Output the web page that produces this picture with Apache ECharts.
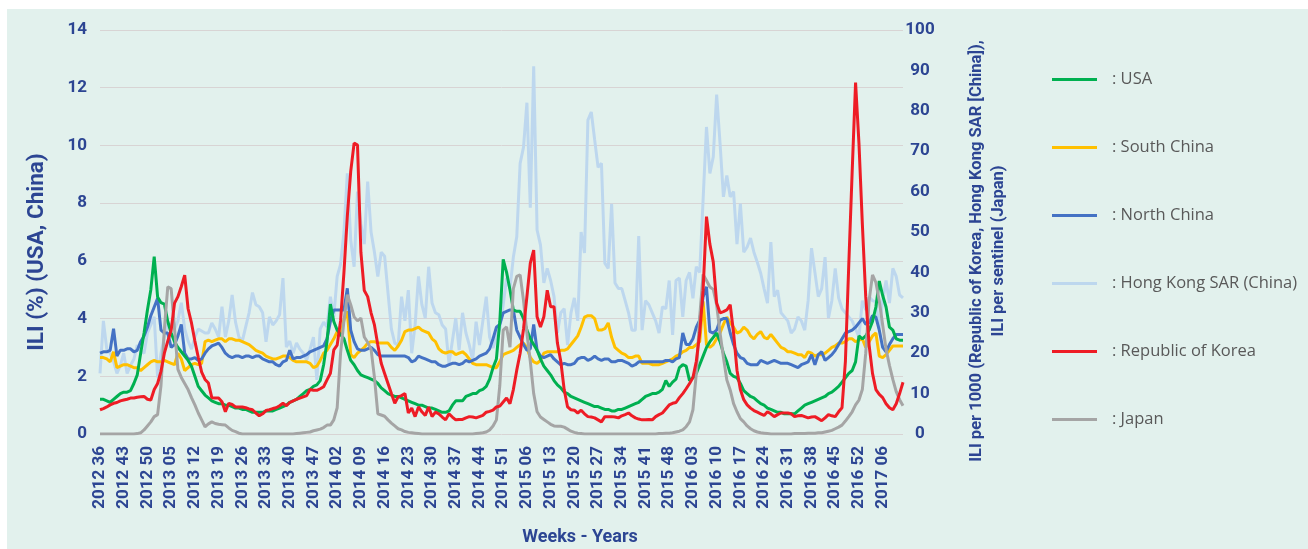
<!DOCTYPE html>
<html>
<head>
<meta charset="utf-8">
<script src="https://cdn.jsdelivr.net/npm/echarts@6/dist/echarts.min.js"></script>
<style>
html,body{margin:0;padding:0;background:#ffffff;width:1308px;height:549px;overflow:hidden;}
#bg{position:absolute;left:7px;top:9px;width:1301px;height:540px;background:#e2f1ed;}
#chart{position:absolute;left:0;top:0;width:1308px;height:549px;}
</style>
</head>
<body>
<div id="bg"></div>
<div id="chart"></div>
<script>
// ---- categories (week labels as printed on the chart) ----
const weeksInYear = {2012: 52, 2013: 52, 2014: 52, 2015: 52, 2016: 53, 2017: 52};
const pointCount = 238;
const categories = [];
(function () {
  let y = 2012, w = 36;
  for (let i = 0; i < pointCount; i++) {
    categories.push(y + ' ' + (w < 10 ? '0' + w : String(w)));
    w++;
    if (w > weeksInYear[y]) { y++; w = 1; }
  }
})();

const leftTicks = {min: 0, max: 14, interval: 2};
const rightTicks = {min: 0, max: 100, interval: 10};
const seriesNames = ['USA', 'South China', 'North China', 'Hong Kong SAR (China)', 'Republic of Korea', 'Japan'];

// ---- left axis: ILI % ----
const usa = [
1.2,1.2,1.15,1.1,1.2,1.3,1.4,1.45,1.45,1.5,
1.75,2.05,2.8,3.5,4.3,5.0,6.15,4.75,4.55,4.5,
3.9,3.5,3.2,3.0,2.85,2.7,2.55,2.35,2.0,1.65,
1.5,1.35,1.25,1.15,1.1,1.05,1.05,1.0,1.0,0.95,
0.9,0.9,0.85,0.85,0.8,0.75,0.75,0.75,0.75,0.8,
0.8,0.8,0.85,0.9,0.95,1.0,1.1,1.15,1.2,1.3,
1.4,1.5,1.55,1.65,1.7,1.85,2.4,3.2,4.5,3.9,
3.6,3.45,3.3,2.9,2.55,2.4,2.2,2.05,2.0,1.95,
1.9,1.85,1.75,1.6,1.5,1.4,1.35,1.3,1.3,1.25,
1.2,1.15,1.1,1.05,1.0,1.0,0.95,0.9,0.9,0.85,
0.8,0.75,0.75,0.8,1.0,1.15,1.15,1.15,1.3,1.35,
1.4,1.4,1.5,1.55,1.65,1.9,2.3,2.6,3.9,6.05,
5.6,5.0,4.3,4.25,4.25,4.0,3.6,3.3,3.1,2.9,
2.6,2.35,2.2,2.05,1.85,1.7,1.6,1.45,1.4,1.3,
1.25,1.2,1.15,1.1,1.05,1.0,0.95,0.95,0.9,0.85,
0.85,0.8,0.8,0.85,0.85,0.9,0.95,1.0,1.05,1.1,
1.2,1.3,1.35,1.4,1.4,1.45,1.55,1.85,1.65,1.8,
1.9,2.3,2.4,2.35,1.85,1.95,2.1,2.4,2.7,3.0,
3.2,3.35,3.5,3.2,2.8,2.5,2.1,2.0,1.95,1.75,
1.5,1.4,1.3,1.25,1.15,1.05,1.0,0.9,0.85,0.8,
0.75,0.75,0.7,0.7,0.7,0.7,0.8,0.9,1.0,1.05,
1.1,1.15,1.2,1.25,1.3,1.4,1.45,1.55,1.65,1.8,
1.95,2.1,2.2,2.5,3.4,3.3,3.4,3.6,3.9,4.4,
5.3,4.8,4.4,3.7,3.6,3.3,3.25,3.25
];
const southChina = [
2.65,2.65,2.6,2.5,2.85,2.3,2.35,2.4,2.4,2.35,
2.3,2.3,2.2,2.3,2.4,2.5,2.55,2.5,2.5,2.55,
2.5,2.45,2.4,2.8,2.6,2.2,2.3,2.4,2.45,2.4,
2.45,3.2,3.25,3.2,3.25,3.3,3.3,3.2,3.3,3.3,
3.25,3.25,3.2,3.15,3.1,3.0,2.9,2.85,2.8,2.7,
2.65,2.6,2.6,2.65,2.7,2.7,2.65,2.55,2.5,2.5,
2.5,2.5,2.45,2.3,2.35,2.55,2.8,2.9,3.1,3.3,
3.55,3.4,3.95,4.25,2.75,2.65,2.8,2.9,3.0,3.15,
3.2,3.2,3.15,3.15,3.15,3.15,3.0,2.9,3.05,3.25,
3.55,3.6,3.6,3.65,3.7,3.6,3.55,3.5,3.3,3.2,
2.95,2.85,2.8,2.85,2.85,2.75,2.8,2.85,2.75,2.6,
2.45,2.4,2.4,2.4,2.4,2.35,2.3,2.3,2.5,2.75,
2.8,2.85,2.9,3.0,3.1,3.15,3.0,2.65,2.5,2.45,
2.55,2.8,2.85,2.85,2.85,2.85,2.9,2.9,2.95,3.1,
3.25,3.4,3.7,4.05,4.1,4.1,4.0,3.6,3.6,3.65,
3.85,3.35,3.0,2.9,2.8,2.75,2.65,2.65,2.7,2.7,
2.45,2.45,2.45,2.4,2.4,2.4,2.45,2.5,2.55,2.6,
2.7,2.75,2.85,2.9,3.0,3.0,3.1,3.2,4.6,3.1,
3.0,3.1,3.3,3.5,3.8,4.05,3.85,3.7,3.5,3.55,
3.7,3.6,3.4,3.3,3.45,3.55,3.35,3.3,3.45,3.3,
3.15,3.0,2.95,2.85,2.85,2.8,2.75,2.75,2.65,2.85,
2.8,2.7,2.75,2.75,2.8,2.9,3.0,3.05,3.15,3.15,
3.2,3.3,3.3,3.2,3.25,3.3,3.0,3.2,3.4,3.5,
2.7,2.65,2.75,2.9,3.05,3.05,3.05,3.05
];
const northChina = [
2.8,2.85,2.85,2.9,3.65,2.7,2.9,2.9,2.95,2.95,
2.85,2.9,3.2,3.4,3.7,4.1,4.4,4.7,3.6,3.5,
3.5,3.0,3.1,3.4,3.8,2.8,2.6,2.6,2.65,2.55,
2.6,2.8,2.95,3.05,3.1,3.15,3.0,2.8,2.7,2.65,
2.7,2.7,2.65,2.7,2.7,2.65,2.7,2.7,2.6,2.55,
2.5,2.5,2.4,2.35,2.5,2.55,2.9,2.6,2.65,2.65,
2.7,2.75,2.85,2.9,2.95,3.0,3.05,3.3,3.9,4.3,
4.3,4.3,4.3,5.05,3.6,3.2,2.95,2.9,2.9,2.95,
3.0,2.9,2.75,2.7,2.7,2.7,2.7,2.7,2.7,2.7,
2.7,2.65,2.5,2.55,2.7,2.65,2.6,2.55,2.5,2.5,
2.4,2.35,2.35,2.4,2.45,2.45,2.4,2.45,2.55,2.5,
2.55,2.6,2.7,2.75,2.8,2.95,3.3,3.7,3.8,4.2,
4.25,4.3,4.3,3.6,3.35,3.1,2.9,2.95,3.8,2.9,
2.7,2.65,2.7,2.75,2.6,2.5,2.4,2.45,2.4,2.4,
2.45,2.6,2.65,2.65,2.55,2.6,2.7,2.6,2.55,2.6,
2.6,2.5,2.5,2.55,2.55,2.5,2.45,2.35,2.4,2.5,
2.5,2.5,2.5,2.5,2.5,2.5,2.5,2.55,2.55,2.5,
2.6,2.65,3.5,3.1,3.1,3.3,3.7,3.95,4.75,5.1,
3.55,3.5,3.6,3.95,4.0,4.0,3.5,3.1,2.8,2.65,
2.6,2.45,2.4,2.4,2.4,2.55,2.5,2.45,2.5,2.55,
2.5,2.45,2.45,2.45,2.4,2.35,2.3,2.4,2.45,2.5,
2.75,2.4,2.75,2.85,2.55,2.65,2.75,2.9,3.1,3.3,
3.5,3.55,3.6,3.7,3.85,4.0,3.8,3.85,4.1,4.05,
3.6,3.0,2.85,3.1,3.3,3.45,3.45,3.45
];
// ---- right axis: ILI per 1000 / per sentinel ----
const hongKong = [
15,28,21,20,18,15,17,20,15,17,
18.5,22,20.5,20,25,27,29,14,20,24,
27.5,27,26,28,32.5,26,23,21,24,26,
25.5,25,25,27.5,26,24,31.5,24,28,34.4,
27.7,24,23,26.5,30,35,32,31.5,30,22.8,
29,27,28,29.5,38.6,21.5,23,20,22.5,21,
20,18.3,21,24,13.4,26,27.7,26.5,34,29,
39,42,50,64.5,48,41.4,60,52,47,62.5,
50,45,39,45,44,35,26,22.5,22,34,
28,35.6,20,27,39,32,28.7,41.4,32.4,30,
29.5,27,26,17.5,23,28.7,20.8,30,25,22,
18.3,27.8,22,28,34,24,21.3,24,26,32,
38.6,36,43.8,48.8,67,71,82,56,91,50.5,
46.8,37.4,41,38,34,25,30,31,22,30,
33.7,28,50,44.8,77.7,79.7,72.8,66,67,42.3,
41,57,37.4,36,36,33,30,25.7,25.7,49,
25.7,33,32,30,28,25,31.5,31,38,24.5,
38,38.6,29,38,40,33.6,41.4,40,58,76,
64.5,68.6,84,72,58.7,64,58.7,60,47,57,
45,46.3,48.5,45,42.5,39.8,36,32.4,47.5,34,
35.6,30,29,28,25,26,29,28,25.7,33,
46,40,34,36,43.8,28.7,33,41,33.7,31,
30,29,28,26,24,33,30.7,34,33,32.7,
26,33,38,32.4,41,39,34.4,33.7
];
const korea = [
6,6.3,6.7,7.2,7.6,7.8,8.2,8.4,8.6,8.9,
8.9,9.1,9.2,9.3,8.6,8.4,11,12.5,15.5,20,
23,25.7,32.4,34,36.5,39.3,31,27.5,23,19,
15.3,13.5,12.6,9,8.9,8.9,8,5.5,7.6,7.3,
6.7,6.7,6.7,6.5,6.2,6,5.2,4.5,5,5.8,
6,6.3,6.5,7,7.6,7,7.8,8.2,8.6,8.9,
9.2,9.5,11,10.8,10.8,11.2,11.7,13.4,15,20.8,
22,28,40,54,65,72,71.5,45,35.5,34,
30,27,22,17.5,15,12.5,10,7.6,9.2,9.5,
10,5.2,6.4,4.3,6.7,5.5,4.6,6.7,4.3,5.4,
5,4.2,3.5,5,4.2,3.5,3.6,3.6,4.0,4.3,
4.2,4,4.3,4.6,5.4,5.6,5.9,6.7,6.9,7.9,
8.9,7.5,11,15.8,20,26,34,42.3,45.5,29,
26.5,29,35.6,31.5,31.5,22.5,18,11,6.7,6,
5.9,5.2,5.9,5,4.3,4.2,4.0,3.5,3.0,4.3,
4.3,4.3,4.2,4.0,4.5,4.8,5.2,4.5,4.0,3.7,
3.5,3.5,3.6,3.5,4.3,4.8,5.2,6.2,7.2,7.6,
7.8,9,10,11.2,12.5,14,18,25,35.6,53.8,
47,42.6,32.4,30,30.3,30.7,32,25,15.8,11,
8.5,7.2,6.4,5.8,5.4,5,4.6,5.5,5,4.3,
4.8,5.2,5.2,5.2,5,4.3,4.5,4.6,4.3,4,
4.2,4.3,3.8,3.3,4,4.8,4.5,4.3,5.5,6.5,
18,42,65,87,72,52,34,22,15,11,
9.8,9,7.5,6.5,6,7.5,10,12.8
];
const japan = [
0,0,0,0,0,0,0,0,0,0,
0,0.1,0.3,1.0,2.0,3.0,4.3,4.8,12,26,
36.4,36,26,16,14,12.5,11,9,7.2,5.2,
3.5,1.8,2.5,3,2.6,2.4,2.3,2.2,1.5,0.9,
0.6,0.2,0,0,0,0,0,0,0,0,
0,0,0,0,0,0,0,0,0.1,0.2,
0.3,0.4,0.5,0.8,1.0,1.2,1.6,2.2,2.2,3.5,
6.5,20,28,34.5,32,29,28,28.7,24,22.7,
21,14,5,4.7,4.4,3.5,2.7,2,1.3,1,
0.6,0.4,0.3,0.2,0.1,0,0,0,0,0,
0,0,0,0,0,0,0,0,0,0,
0,0.1,0.2,0.3,0.5,1,2,3.5,12,25.7,
26.5,21.5,36,39,39.4,33,25,18,10,5.5,
4.2,3.6,3,2.4,2,1.9,1.9,1.7,1.2,0.7,
0.4,0.2,0.1,0,0,0,0,0,0,0,
0,0,0,0,0,0,0,0,0,0,
0,0,0,0,0,0.1,0.1,0.2,0.2,0.3,
0.5,0.7,1.0,1.8,3,6,15,29,39.5,38,
36.4,35.8,32,25,19,13.4,10.9,7.5,5.5,3.8,
3,2,1.3,0.8,0.5,0.3,0.2,0.1,0,0,
0,0,0,0,0,0.1,0.1,0.1,0.1,0.2,
0.2,0.2,0.3,0.3,0.5,0.7,0.9,1.3,1.7,2.2,
3.2,4.3,5.5,7.2,8.4,11,20,33,39.4,37.5,
33,27,21,17,13.5,10.5,8.5,7
];

const colors = {
  'USA': '#00b050',
  'South China': '#ffc000',
  'North China': '#4472c4',
  'Hong Kong SAR (China)': '#bdd7ee',
  'Republic of Korea': '#ee1c25',
  'Japan': '#a5a5a5'
};
const axisBlue = '#2c4593';

function lineSeries(name, data, axis) {
  return {
    name: name, type: 'line', data: data, yAxisIndex: axis,
    symbol: 'none', showSymbol: false,
    lineStyle: {width: 3, color: colors[name]},
    itemStyle: {color: colors[name]},
    emphasis: {disabled: true}
  };
}

const chart = echarts.init(document.getElementById('chart'), null, {renderer: 'canvas'});
chart.setOption({
  animation: false,
  backgroundColor: 'transparent',
  grid: {left: 100, right: 405, top: 30, bottom: 115, containLabel: false},
  legend: {
    data: seriesNames,
    orient: 'vertical',
    left: 1052, top: 71,
    padding: 0,
    icon: 'rect',
    itemWidth: 45, itemHeight: 3, itemGap: 51,
    selectedMode: false,
    formatter: function (n) { return ': ' + n; },
    textStyle: {color: '#595959', fontSize: 16.5, fontFamily: 'Open Sans', padding: [0, 0, 0, 10], lineHeight: 16}
  },
  xAxis: {
    type: 'category', data: categories, boundaryGap: false,
    axisLine: {show: false}, axisTick: {show: false},
    axisLabel: {interval: 6, rotate: 90, margin: 12, color: axisBlue, fontWeight: 'bold', fontSize: 17, fontFamily: 'Roboto'},
    splitLine: {show: false}
  },
  yAxis: [
    {
      type: 'value', position: 'left', min: leftTicks.min, max: leftTicks.max, interval: leftTicks.interval,
      axisLine: {show: false}, axisTick: {show: false},
      axisLabel: {margin: 13, color: axisBlue, fontWeight: 'bold', fontSize: 17, fontFamily: 'Roboto'},
      splitLine: {show: true, lineStyle: {color: '#d8d4d4', width: 1}}
    },
    {
      type: 'value', position: 'right', min: rightTicks.min, max: rightTicks.max, interval: rightTicks.interval,
      axisLine: {show: false}, axisTick: {show: false},
      axisLabel: {margin: 17, align: 'center', color: axisBlue, fontWeight: 'bold', fontSize: 17, fontFamily: 'Roboto'},
      splitLine: {show: false}
    }
  ],
  graphic: [
    {type: 'text', x: 37, y: 252, rotation: Math.PI / 2, silent: true,
     style: {text: 'ILI (%) (USA, China)', fontSize: 22.5, fontWeight: 'bold', fontFamily: 'Roboto', fill: axisBlue, align: 'center', verticalAlign: 'middle'}},
    {type: 'text', x: 988, y: 251, rotation: Math.PI / 2, silent: true,
     style: {text: 'ILI per 1000 (Republic of Korea, Hong Kong SAR [China]),\nILI per sentinel (Japan)', fontSize: 16.5, fontWeight: 'bold', fontFamily: 'Roboto', fill: axisBlue, align: 'center', verticalAlign: 'middle', lineHeight: 22}},
    {type: 'text', x: 580, y: 537, silent: true,
     style: {text: 'Weeks - Years', fontSize: 18, fontWeight: 'bold', fontFamily: 'Roboto', fill: axisBlue, align: 'center', verticalAlign: 'middle'}}
  ],
  series: [
    lineSeries('Hong Kong SAR (China)', hongKong, 1),
    lineSeries('South China', southChina, 0),
    lineSeries('North China', northChina, 0),
    lineSeries('USA', usa, 0),
    lineSeries('Japan', japan, 1),
    lineSeries('Republic of Korea', korea, 1)
  ]
});
</script>
</body>
</html>
